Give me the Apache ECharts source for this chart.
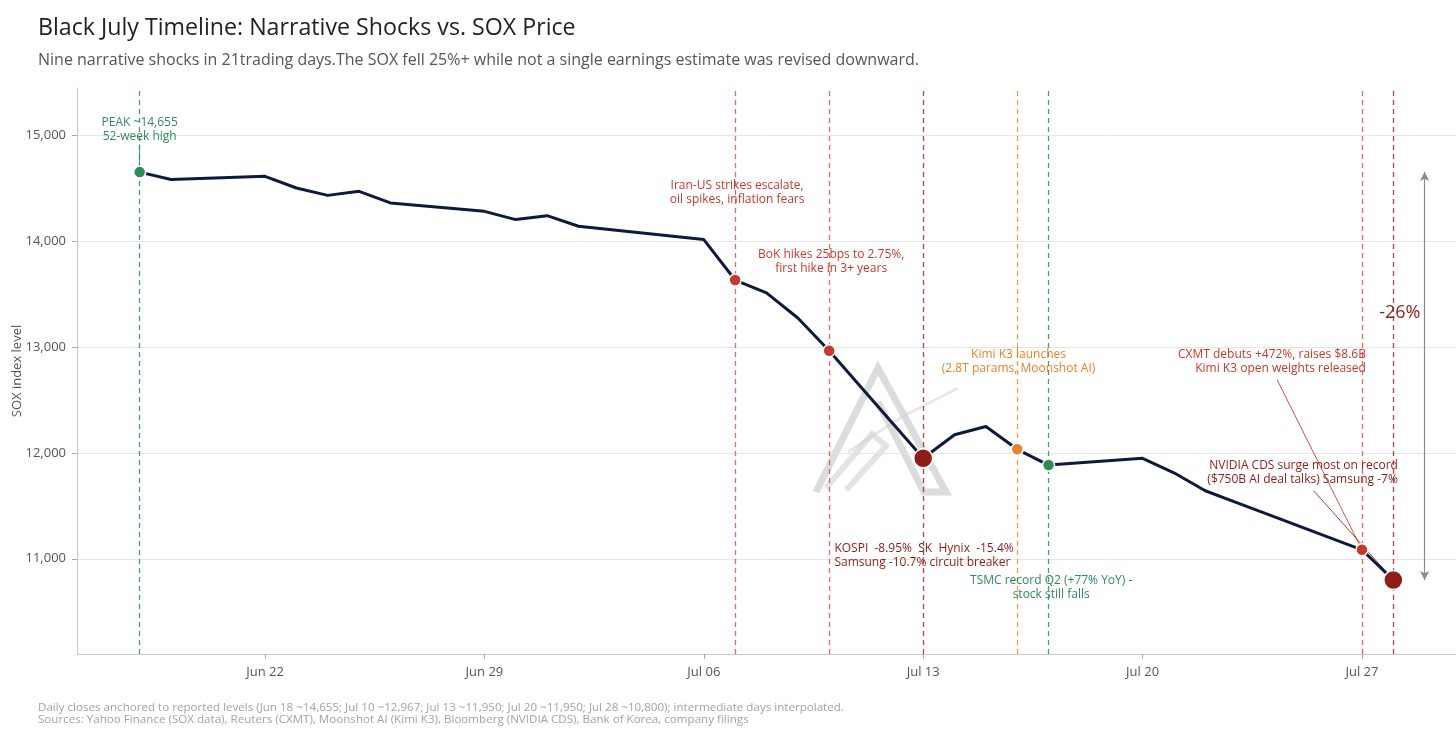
<!DOCTYPE html>
<html>
<head>
<meta charset="utf-8">
<title>Black July Timeline</title>
<script src="https://cdn.jsdelivr.net/npm/echarts@6/dist/echarts.min.js"></script>
<style>
  html, body { margin: 0; padding: 0; background: #fff; }
  #main { width: 1456px; height: 750px; }
</style>
</head>
<body>
<div id="main"></div>
<script>
// SOX daily closes (trading days only)
const tradeDates = ['2026-06-18', '2026-06-19', '2026-06-22', '2026-06-23', '2026-06-24', '2026-06-25', '2026-06-26',
  '2026-06-29', '2026-06-30', '2026-07-01', '2026-07-02', '2026-07-06', '2026-07-07', '2026-07-08', '2026-07-09',
  '2026-07-10', '2026-07-13', '2026-07-14', '2026-07-15', '2026-07-16', '2026-07-17', '2026-07-20', '2026-07-21',
  '2026-07-22', '2026-07-23', '2026-07-24', '2026-07-27', '2026-07-28'];
const soxClose = [14655, 14585, 14615, 14505, 14435, 14473, 14364,
  14284, 14206, 14243, 14143, 14017, 13635, 13513, 13276,
  12967, 11950, 12173, 12251, 12035, 11886, 11950, 11813,
  11643, 11530, 11420, 11085, 10800];

// narrative shock days
const eventDates = ['2026-06-18', '2026-07-07', '2026-07-10', '2026-07-13', '2026-07-16', '2026-07-17', '2026-07-27', '2026-07-28'];
const eventKinds = ['peak', 'shock', 'shock', 'crash', 'ai', 'tsmc', 'shock', 'crash'];

const xTickDates = ['2026-06-22', '2026-06-29', '2026-07-06', '2026-07-13', '2026-07-20', '2026-07-27'];
const yTickValues = [11000, 12000, 13000, 14000, 15000];

const noteTexts = [
  'PEAK ~14,655\n52-week high',
  'Iran-US strikes escalate,\noil spikes, inflation fears',
  'BoK hikes 25bps to 2.75%,\nfirst hike in 3+ years',
  'KOSPI  -8.95%  SK  Hynix  -15.4%\nSamsung -10.7% circuit breaker',
  'Kimi K3 launches\n(2.8T params, Moonshot AI)',
  'TSMC record Q2 (+77% YoY) -\nstock still falls',
  'CXMT debuts +472%, raises $8.6B\nKimi K3 open weights released',
  'NVIDIA CDS surge most on record\n($750B AI deal talks) Samsung -7%'
];
const dropLabel = '-26%';

const titleText = 'Black July Timeline: Narrative Shocks vs. SOX Price';
const subtitleText = 'Nine narrative shocks in 21trading days.The SOX fell 25%+ while not a single earnings estimate was revised downward.';
const footText = 'Daily closes anchored to reported levels (Jun 18 ~14,655; Jul 10 ~12,967; Jul 13 ~11,950; Jul 20 ~11,950; Jul 28 ~10,800); intermediate days interpolated.\n' +
  'Sources: Yahoo Finance (SOX data), Reuters (CXMT), Moonshot AI (Kimi K3), Bloomberg (NVIDIA CDS), Bank of Korea, company filings';

const FONT = 'Open Sans';
const MONTHS = ['Jan', 'Feb', 'Mar', 'Apr', 'May', 'Jun', 'Jul', 'Aug', 'Sep', 'Oct', 'Nov', 'Dec'];

const kindStyle = {
  peak: { dot: '#2e8b57', line: 'rgba(46,139,87,0.85)', text: '#2e8b57', size: 12 },
  tsmc: { dot: '#2e8b57', line: 'rgba(46,139,87,0.85)', text: '#2e8b57', size: 12 },
  shock: { dot: '#c63a2b', line: 'rgba(214,72,56,0.8)', text: '#c63a2b', size: 12 },
  crash: { dot: '#901d16', line: 'rgba(160,40,34,0.85)', text: '#8e1c15', size: 19 },
  ai: { dot: '#e8832a', line: 'rgba(236,140,50,0.85)', text: '#e8832a', size: 12 }
};

// local-time timestamp from 'yyyy-mm-dd[ hh:mm]'
function t(s) {
  return +new Date(s.length > 10 ? s.replace(' ', 'T') + ':00' : s + 'T00:00:00');
}
function closeOn(d) {
  return soxClose[tradeDates.indexOf(d)];
}

// where each note sits (data coords) and how it is aligned
const noteLayout = [
  { at: ['2026-06-18', 15052], kind: 'peak', align: 'center' },
  { at: ['2026-07-07 01:30', 14456], kind: 'shock', align: 'center' },
  { at: ['2026-07-10 01:30', 13809], kind: 'shock', align: 'center' },
  { at: ['2026-07-10 04:00', 11028], kind: 'crash', align: 'left' },
  { at: ['2026-07-16 01:00', 12858], kind: 'ai', align: 'center' },
  { at: ['2026-07-17 02:00', 10721], kind: 'tsmc', align: 'center' },
  { at: ['2026-07-27 03:00', 12858], kind: 'shock', align: 'right' },
  { at: ['2026-07-28 03:30', 11813], kind: 'crash', align: 'right' }
];

const noteMarks = noteTexts.map(function (txt, i) {
  const lay = noteLayout[i];
  return {
    coord: [t(lay.at[0]), lay.at[1]],
    symbolSize: 1,
    itemStyle: { color: 'rgba(0,0,0,0)' },
    label: {
      show: true,
      position: 'inside',
      formatter: txt,
      align: lay.align,
      verticalAlign: 'middle',
      color: kindStyle[lay.kind].text,
      fontFamily: FONT,
      fontSize: 12,
      lineHeight: 14
    }
  };
});
noteMarks.push({
  coord: [t('2026-07-28 05:00'), 13317],
  symbolSize: 1,
  itemStyle: { color: 'rgba(0,0,0,0)' },
  label: {
    show: true, position: 'inside', formatter: dropLabel,
    color: '#8e1c15', fontFamily: FONT, fontSize: 18
  }
});

const eventLines = eventDates.map(function (d, i) {
  return {
    xAxis: t(d),
    lineStyle: { color: kindStyle[eventKinds[i]].line, type: [5, 4], width: 1.3 }
  };
});

// pointer lines from notes to their points
const pointerLines = [
  [{ coord: [t('2026-06-18'), 14915] }, { coord: [t('2026-06-18'), 14716] }, 'peak'],
  [{ coord: [t('2026-07-24 07:00'), 12693] }, { coord: [t('2026-07-27'), closeOn('2026-07-27')] }, 'shock'],
  [{ coord: [t('2026-07-25 11:00'), 11643] }, { coord: [t('2026-07-28'), closeOn('2026-07-28')] }, 'crash']
].map(function (p) {
  return [
    Object.assign({ lineStyle: { color: kindStyle[p[2]].dot, width: 1, type: 'solid', opacity: 0.85 } }, p[0]),
    p[1]
  ];
});
const dropArrow = [
  { coord: [t('2026-07-29'), closeOn('2026-06-18')], lineStyle: { color: '#8a8a8a', width: 1.2, type: 'solid' } },
  { coord: [t('2026-07-29'), closeOn('2026-07-28')] }
];

const chart = echarts.init(document.getElementById('main'), null, { renderer: 'canvas' });

const option = {
  backgroundColor: '#ffffff',
  animation: false,
  textStyle: { fontFamily: FONT },
  title: [
    {
      text: titleText, left: 38, top: 17, padding: 0,
      textStyle: { fontFamily: FONT, fontSize: 23.2, fontWeight: 'normal', color: '#222' }
    },
    {
      text: subtitleText, left: 38, top: 52, padding: 0,
      textStyle: { fontFamily: FONT, fontSize: 16, fontWeight: 'normal', color: '#555' }
    },
    {
      text: footText, left: 38, top: 701, padding: 0,
      textStyle: { fontFamily: FONT, fontSize: 11.6, lineHeight: 12.5, fontWeight: 'normal', color: '#a3a3a3' }
    }
  ],
  grid: { left: 77, right: 0, top: 88, bottom: 96, containLabel: false, outerBoundsMode: 'none' },
  xAxis: {
    type: 'value',
    min: t('2026-06-16'),
    max: t('2026-07-30'),
    axisLine: { lineStyle: { color: '#c8c8c8' } },
    axisTick: {
      show: true, length: 5, lineStyle: { color: '#aaa' },
      customValues: xTickDates.map(t)
    },
    axisLabel: {
      customValues: xTickDates.map(t),
      color: '#555', fontSize: 13, fontFamily: FONT, margin: 12,
      formatter: function (v) {
        const dt = new Date(v);
        const dd = dt.getDate();
        return MONTHS[dt.getMonth()] + ' ' + (dd < 10 ? '0' + dd : dd);
      }
    },
    splitLine: { show: false }
  },
  yAxis: {
    type: 'value',
    min: 10100,
    max: 15450,
    name: 'SOX index level',
    nameLocation: 'middle',
    nameGap: 53,
    nameMoveOverlap: false,
    nameTextStyle: { color: '#555', fontSize: 13, fontFamily: FONT },
    axisLine: { show: true, lineStyle: { color: '#c8c8c8' } },
    axisTick: { show: true, length: 5, lineStyle: { color: '#aaa' }, customValues: yTickValues },
    axisLabel: {
      customValues: yTickValues,
      color: '#555', fontSize: 13, fontFamily: FONT, margin: 11,
      formatter: function (v) { return v.toLocaleString('en-US'); }
    },
    splitLine: { show: true, lineStyle: { color: '#e6e6e6', width: 1 } }
  },
  graphic: [
    // faint logo watermark
    {
      type: 'group', silent: true, z: 1,
      children: [
        { type: 'polyline', shape: { points: [[816, 492], [878, 368], [946, 492], [924, 492], [878, 402]] },
          style: { stroke: 'rgba(185,185,185,0.5)', lineWidth: 7, fill: null, lineJoin: 'miter' } },
        { type: 'polyline', shape: { points: [[826, 488], [872, 434], [886, 446], [846, 490]] },
          style: { stroke: 'rgba(195,195,195,0.45)', lineWidth: 6, fill: null } },
        { type: 'polyline', shape: { points: [[848, 452], [900, 418], [958, 388]] },
          style: { stroke: 'rgba(205,205,205,0.45)', lineWidth: 3, fill: null } }
      ]
    }
  ],
  series: [
    {
      name: 'SOX',
      type: 'line',
      data: tradeDates.map(function (d, i) { return [t(d), soxClose[i]]; }),
      showSymbol: false,
      symbol: 'none',
      lineStyle: { color: '#0e1a3b', width: 3, join: 'round' },
      z: 5,
      markLine: {
        silent: true, symbol: ['none', 'none'], label: { show: false },
        animation: false, z: 2,
        data: eventLines
      }
    },
    {
      name: 'pointers',
      type: 'line',
      data: [],
      z: 4,
      markLine: {
        silent: true, symbol: ['none', 'none'], label: { show: false }, animation: false,
        data: pointerLines
      }
    },
    {
      name: 'drop',
      type: 'line',
      data: [],
      z: 4,
      markLine: {
        silent: true, symbol: ['arrow', 'arrow'], symbolSize: [7, 9], label: { show: false }, animation: false,
        data: [dropArrow]
      },
      markPoint: {
        silent: true, animation: false,
        data: noteMarks
      }
    },
    {
      name: 'events',
      type: 'scatter',
      z: 10,
      data: eventDates.map(function (d, i) {
        const st = kindStyle[eventKinds[i]];
        return {
          value: [t(d), closeOn(d)],
          symbolSize: st.size,
          itemStyle: { color: st.dot, opacity: 1, borderColor: '#ffffff', borderWidth: 1.5 }
        };
      })
    }
  ]
};

chart.setOption(option);
</script>
</body>
</html>
